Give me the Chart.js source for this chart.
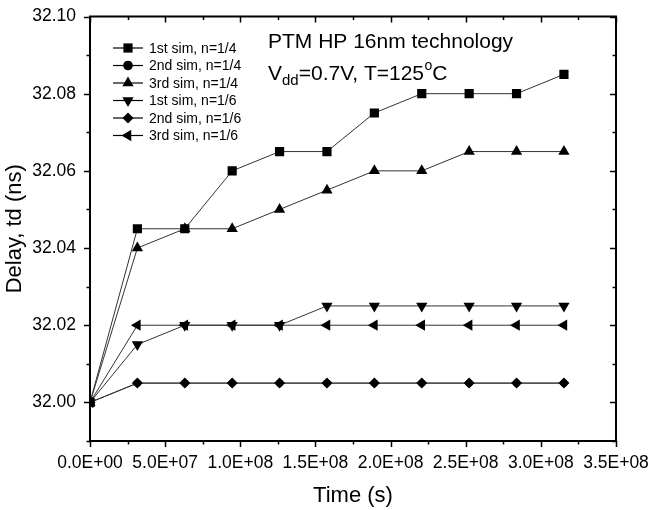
<!DOCTYPE html>
<html><head><meta charset="utf-8">
<script src="https://cdn.jsdelivr.net/npm/chart.js@4"></script>
<style>html,body{margin:0;padding:0;background:#fff}#wrap{width:651px;height:510px}</style>
</head><body><div id="wrap"><canvas id="c" width="651" height="510"></canvas></div>
<script>
const times = [0, 3.1536e7, 6.3072e7, 9.4608e7, 1.26144e8, 1.5768e8, 1.89216e8, 2.20752e8, 2.52288e8, 2.83824e8, 3.1536e8];
const sim1_n4 = [32.000, 32.045, 32.045, 32.060, 32.065, 32.065, 32.075, 32.080, 32.080, 32.080, 32.085];
const sim2_n4 = [32.000, 32.005, 32.005, 32.005, 32.005, 32.005, 32.005, 32.005, 32.005, 32.005, 32.005];
const sim3_n4 = [32.000, 32.040, 32.045, 32.045, 32.050, 32.055, 32.060, 32.060, 32.065, 32.065, 32.065];
const sim1_n6 = [32.000, 32.015, 32.020, 32.020, 32.020, 32.025, 32.025, 32.025, 32.025, 32.025, 32.025];
const sim2_n6 = [32.000, 32.005, 32.005, 32.005, 32.005, 32.005, 32.005, 32.005, 32.005, 32.005, 32.005];
const sim3_n6 = [32.000, 32.020, 32.020, 32.020, 32.020, 32.020, 32.020, 32.020, 32.020, 32.020, 32.020];
const seriesLabels = ['1st sim, n=1/4','2nd sim, n=1/4','3rd sim, n=1/4','1st sim, n=1/6','2nd sim, n=1/6','3rd sim, n=1/6'];
const yTickValues = [32.00, 32.02, 32.04, 32.06, 32.08, 32.10];
const yMinorValues = [31.99, 32.01, 32.03, 32.05, 32.07, 32.09];
const xTickValues = [0, 5e7, 1e8, 1.5e8, 2e8, 2.5e8, 3e8, 3.5e8];
const xMinorValues = [2.5e7, 7.5e7, 1.25e8, 1.75e8, 2.25e8, 2.75e8, 3.25e8];
const xTickLabels = ['0.0E+00','5.0E+07','1.0E+08','1.5E+08','2.0E+08','2.5E+08','3.0E+08','3.5E+08'];

const FONT = 'Liberation Sans, Arial, sans-serif';
const styles = [
  {pointStyle:'rect', radius:6.5, legendRadius:6.5, rotation:0},
  {pointStyle:'circle', radius:3.7, legendRadius:4.8, rotation:0},
  {pointStyle:'triangle', radius:6.5, legendRadius:6.5, rotation:0},
  {pointStyle:'triangle', radius:6.5, legendRadius:6.5, rotation:180},
  {pointStyle:'rectRot', radius:5.5, legendRadius:5.5, rotation:0},
  {pointStyle:'triangle', radius:6.5, legendRadius:6.5, rotation:270},
];
const drawOrder = [1, 10, 2, 4, 3, 5];
const allSeries = [sim1_n4, sim2_n4, sim3_n4, sim1_n6, sim2_n6, sim3_n6];
const datasets = allSeries.map((arr, i) => ({
  label: seriesLabels[i],
  data: arr.map((v, k) => ({x: times[k], y: v})),
  borderColor: '#333',
  backgroundColor: '#000',
  pointBackgroundColor: '#000',
  pointBorderColor: '#000',
  pointBorderWidth: 0,
  borderWidth: 1,
  pointStyle: styles[i].pointStyle,
  pointRadius: styles[i].radius,
  pointRotation: styles[i].rotation,
  pointHoverRadius: styles[i].radius,
  tension: 0,
  order: drawOrder[i]
}));

const decor = {
  id: 'decor',
  afterDraw(chart) {
    const ctx = chart.ctx;
    const {left, right, top, bottom} = chart.chartArea;
    const xs = chart.scales.x, ys = chart.scales.y;
    ctx.save();
    ctx.strokeStyle = '#000';
    ctx.lineWidth = 2;
    ctx.strokeRect(left, top, right - left, bottom - top);
    ctx.lineWidth = 1.5;
    ctx.beginPath();
    const maj = 6, mn = 3.5;
    yTickValues.forEach(v => { const p = Math.round(ys.getPixelForValue(v)) + 0.5;
      ctx.moveTo(left - maj, p); ctx.lineTo(left, p);
      ctx.moveTo(right, p); ctx.lineTo(right - maj, p); });
    yMinorValues.forEach(v => { const p = Math.round(ys.getPixelForValue(v)) + 0.5;
      ctx.moveTo(left - mn, p); ctx.lineTo(left, p);
      ctx.moveTo(right, p); ctx.lineTo(right - mn, p); });
    xTickValues.forEach(v => { const p = Math.round(xs.getPixelForValue(v)) + 0.5;
      ctx.moveTo(p, bottom); ctx.lineTo(p, bottom + maj);
      ctx.moveTo(p, top); ctx.lineTo(p, top + maj); });
    xMinorValues.forEach(v => { const p = Math.round(xs.getPixelForValue(v)) + 0.5;
      ctx.moveTo(p, bottom); ctx.lineTo(p, bottom + mn);
      ctx.moveTo(p, top); ctx.lineTo(p, top + mn); });
    ctx.stroke();

    // legend
    const lx0 = 113, lx1 = 143, tx = 149;
    const rowY = [48, 65.5, 83, 100.5, 118, 135.5];
    ctx.font = '14px ' + FONT;
    ctx.textBaseline = 'middle';
    ctx.textAlign = 'left';
    seriesLabels.forEach((lab, i) => {
      const y = rowY[i];
      ctx.strokeStyle = '#000'; ctx.lineWidth = 1.2;
      ctx.beginPath(); ctx.moveTo(lx0, y); ctx.lineTo(lx1, y); ctx.stroke();
      ctx.fillStyle = '#000'; ctx.strokeStyle = '#000'; ctx.lineWidth = 0.5;
      Chart.helpers.drawPoint(ctx, {pointStyle: styles[i].pointStyle, rotation: styles[i].rotation, radius: styles[i].legendRadius, borderWidth: 0}, (lx0 + lx1) / 2, y);
      ctx.fillStyle = '#000';
      ctx.fillText(lab, tx, y + 1);
    });

    // annotation text
    ctx.fillStyle = '#000';
    ctx.textBaseline = 'alphabetic';
    ctx.font = '21px ' + FONT;
    ctx.fillText('PTM HP 16nm technology', 268, 48);
    let x = 268;
    ctx.fillText('V', x, 80); x += ctx.measureText('V').width;
    ctx.font = '15px ' + FONT;
    ctx.fillText('dd', x, 85); x += ctx.measureText('dd').width;
    ctx.font = '21px ' + FONT;
    ctx.fillText('=0.7V, T=125', x, 80); x += ctx.measureText('=0.7V, T=125').width;
    ctx.font = '14px ' + FONT;
    ctx.fillText('o', x + 0.5, 70); x += ctx.measureText('o').width + 0.5;
    ctx.font = '21px ' + FONT;
    ctx.fillText('C', x, 80);
    ctx.restore();
  }
};

new Chart(document.getElementById('c'), {
  type: 'line',
  data: { datasets },
  plugins: [decor],
  options: {
    responsive: false,
    animation: false,
    events: [],
    layout: { padding: { left: 0, right: 35, top: 16, bottom: 0 } },
    plugins: { legend: { display: false }, tooltip: { enabled: false } },
    scales: {
      x: {
        type: 'linear', min: 0, max: 3.5e8,
        grid: { display: false },
        border: { display: false },
        afterBuildTicks: s => { s.ticks = xTickValues.map(v => ({value: v})); },
        afterFit: s => { s.height = 69; s.paddingLeft = 0; s.paddingRight = 0; },
        ticks: { maxRotation: 0, autoSkip: false, padding: 4, color: '#000',
          font: { family: FONT, size: 17.5 },
          callback: (v, i) => xTickLabels[i] },
        title: { display: true, text: 'Time (s)', color: '#000', font: { family: FONT, size: 22 }, padding: { top: 0, bottom: 1 } }
      },
      y: {
        type: 'linear', min: 31.99, max: 32.10,
        grid: { display: false },
        border: { display: false },
        afterBuildTicks: s => { s.ticks = yTickValues.map(v => ({value: v})); },
        afterFit: s => { s.width = 90; },
        ticks: { padding: 6, color: '#000', font: { family: FONT, size: 17.5 },
          callback: v => v.toFixed(2) },
        title: { display: true, text: 'Delay, td (ns)', color: '#000', font: { family: FONT, size: 22 }, padding: { top: 2, bottom: 0 } }
      }
    }
  }
});
</script></body></html>
